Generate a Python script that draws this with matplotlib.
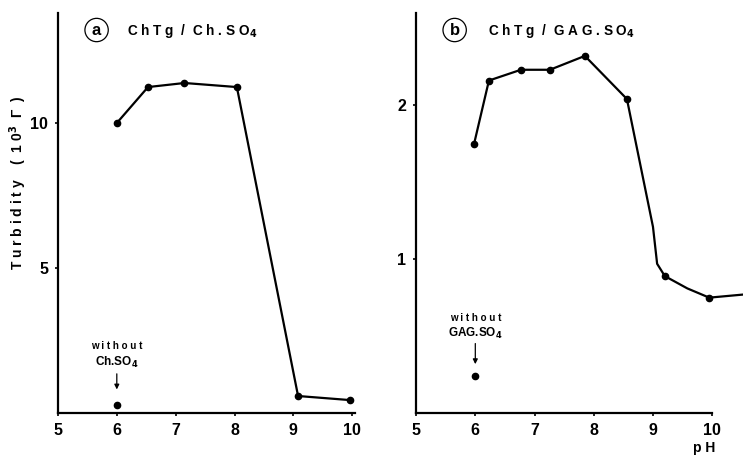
import matplotlib.pyplot as plt

plt.rcParams['font.family'] = ['Liberation Sans', 'DejaVu Sans']
plt.rcParams['font.weight'] = 'bold'

# panel a: ChTg / Ch.SO4
ph_a = [6.0, 6.53, 7.15, 8.04, 9.08, 9.96]
turb_a = [10.0, 11.24, 11.38, 11.24, 0.59, 0.45]
ph_a_ctrl = 6.0
turb_a_ctrl = 0.28

# panel b: ChTg / GAG.SO4 (measured points)
ph_b = [5.98, 6.23, 6.77, 7.26, 7.85, 8.56, 9.2, 9.95]
turb_b = [1.75, 2.16, 2.23, 2.23, 2.32, 2.04, 0.89, 0.75]
# hand-drawn curve through the points
curve_ph_b = [5.98, 6.23, 6.77, 7.26, 7.85, 8.56, 9.0, 9.07, 9.2, 9.58, 9.95, 10.52]
curve_turb_b = [1.75, 2.16, 2.23, 2.23, 2.32, 2.04, 1.21, 0.97, 0.89, 0.81, 0.75, 0.77]
ph_b_ctrl = 6.0
turb_b_ctrl = 0.24

fig = plt.figure(figsize=(7.43, 4.57), dpi=100)
ax1 = fig.add_axes([0.078, 0.096, 0.400, 0.876])
ax2 = fig.add_axes([0.560, 0.096, 0.440, 0.876])

for ax in (ax1, ax2):
    ax.spines['top'].set_visible(False)
    ax.spines['right'].set_visible(False)
    ax.spines['left'].set_linewidth(1.6)
    ax.spines['bottom'].set_linewidth(1.6)
    ax.tick_params(length=2, width=1.2, labelsize=11.5, pad=5)
    ax.set_xticks([5, 6, 7, 8, 9, 10])

# panel a
ax1.plot(ph_a, turb_a, color='black', lw=1.6, marker='o', ms=4.5)
ax1.plot([ph_a_ctrl], [turb_a_ctrl], 'o', color='black', ms=4.5)
ax1.set_xlim(5, 10.05)
ax1.set_ylim(0, 13.8)
ax1.set_yticks([5, 10])
ax1.spines['bottom'].set_bounds(5, 10.05)
fig.text(18 / 743, 1 - 183 / 457, 'T u r b i d i t y    (  1 0$^3$  Γ  )',
         rotation=90, ha='center', va='center', fontsize=10)
ax1.annotate('', xy=(ph_a_ctrl, 0.72), xytext=(ph_a_ctrl, 1.45),
             arrowprops=dict(arrowstyle='-|>', color='black', lw=0.9, mutation_scale=7))
ax1.text(ph_a_ctrl, 2.3, 'w i t h o u t', ha='center', va='center', fontsize=7)
ax1.text(ph_a_ctrl, 1.75, 'Ch.SO$_4$', ha='center', va='center', fontsize=8.5)
ax1.text(0.13, 0.957, 'a', transform=ax1.transAxes, ha='center', va='center',
         fontsize=12, bbox=dict(boxstyle='circle,pad=0.25', fc='white', ec='black', lw=0.9))
ax1.text(0.232, 0.955, 'C h T g  /  C h . S O$_4$', transform=ax1.transAxes,
         ha='left', va='center', fontsize=9.8)

# panel b
ax2.plot(curve_ph_b, curve_turb_b, color='black', lw=1.6)
ax2.plot(ph_b, turb_b, 'o', color='black', ms=4.5)
ax2.plot([ph_b_ctrl], [turb_b_ctrl], 'o', color='black', ms=4.5)
ax2.set_xlim(5, 10.52)
ax2.set_ylim(0, 2.6)
ax2.set_yticks([1, 2])
ax2.spines['bottom'].set_bounds(5, 10)
ax2.annotate('', xy=(ph_b_ctrl, 0.3), xytext=(ph_b_ctrl, 0.47),
             arrowprops=dict(arrowstyle='-|>', color='black', lw=0.9, mutation_scale=7))
ax2.text(ph_b_ctrl, 0.615, 'w i t h o u t', ha='center', va='center', fontsize=7)
ax2.text(ph_b_ctrl, 0.52, 'GAG.SO$_4$', ha='center', va='center', fontsize=8.5)
ax2.text(0.118, 0.957, 'b', transform=ax2.transAxes, ha='center', va='center',
         fontsize=12, bbox=dict(boxstyle='circle,pad=0.25', fc='white', ec='black', lw=0.9))
ax2.text(0.22, 0.955, 'C h T g  /  G A G . S O$_4$', transform=ax2.transAxes,
         ha='left', va='center', fontsize=9.8)
fig.text(0.948, 0.005, 'p H', ha='center', va='bottom', fontsize=10)

fig.savefig('out.png', dpi=100)
